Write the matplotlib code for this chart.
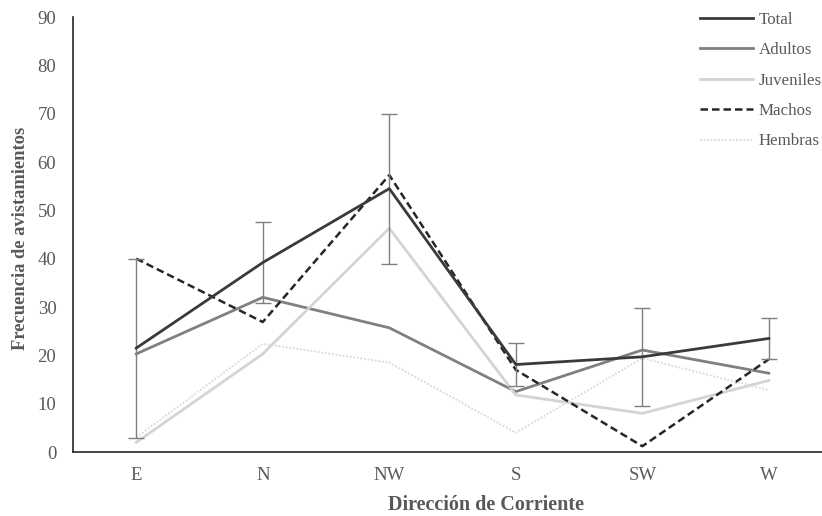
import matplotlib
matplotlib.use("Agg")
import matplotlib.pyplot as plt

plt.rcParams['font.family'] = ['Liberation Serif', 'DejaVu Serif']

direcciones = ["E", "N", "NW", "S", "SW", "W"]

total = [21.5, 39.2, 54.5, 18.1, 19.7, 23.5]
total_err = [18.5, 8.4, 15.5, 4.5, 10.2, 4.2]
adultos = [20.3, 32.0, 25.7, 12.5, 21.1, 16.3]
juveniles = [2.0, 20.3, 46.3, 11.8, 8.0, 14.8]
machos = [40.0, 26.9, 57.3, 17.0, 1.2, 19.2]
hembras = [3.0, 22.4, 18.5, 4.0, 19.4, 12.8]

x = list(range(len(direcciones)))

fig = plt.figure(figsize=(8.22, 5.16), dpi=100)
ax = fig.add_axes([0.0888, 0.124, 0.9112, 0.843])

ax.plot(x, total, color='#3a3a3a', lw=2, label='Total', zorder=5)
ax.errorbar(x, total, yerr=total_err, fmt='none', ecolor='#7f7f7f',
            elinewidth=1, capsize=6, capthick=1, zorder=4)
ax.plot(x, adultos, color='#808080', lw=2, label='Adultos')
ax.plot(x, juveniles, color='#d4d4d4', lw=2, label='Juveniles')
ax.plot(x, machos, color='#262626', lw=1.8, ls=(0, (3, 1.6)), label='Machos')
ax.plot(x, hembras, color='#d9d9d9', lw=1.3, ls=(0, (1, 1)), label='Hembras')

ax.set_ylim(0, 90)
ax.set_xlim(-0.5, 5.42)
ax.set_yticks(range(0, 91, 10))
ax.set_xticks(x)
ax.set_xticklabels(direcciones)
ax.tick_params(axis='both', length=0, labelsize=13.5, colors='#595959')
ax.tick_params(axis='x', pad=11)
ax.tick_params(axis='y', pad=12)

for s in ['top', 'right']:
    ax.spines[s].set_visible(False)
for s in ['left', 'bottom']:
    ax.spines[s].set_color('#262626')
    ax.spines[s].set_linewidth(1.2)

# axis titles placed by pixel offset from the spines
ax.set_ylabel('Frecuencia de avistamientos', fontsize=13.3, fontweight='bold',
              color='#595959')
ax.yaxis.set_label_coords(-52 / 749, 0.49)
ax.set_xlabel('Dirección de Corriente', fontsize=14.5, fontweight='bold',
              color='#595959')
ax.xaxis.set_label_coords(413 / 749, -53 / 435)
ax.xaxis.label.set_va('center')
ax.yaxis.label.set_va('center')

leg = ax.legend(loc='upper left', bbox_to_anchor=(700 / 822, 0.977),
                bbox_transform=fig.transFigure, frameon=False,
                fontsize=12.2, labelspacing=0.85, handlelength=3.1,
                handletextpad=0.35, borderpad=0, borderaxespad=0)
for t in leg.get_texts():
    t.set_color('#595959')

fig.savefig('out.png', dpi=100)
